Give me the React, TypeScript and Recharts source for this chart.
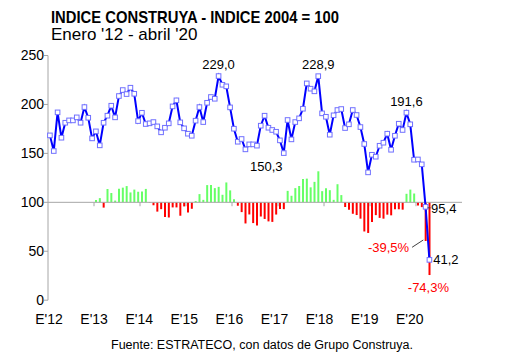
import React from 'react';
import { ComposedChart, Bar, Line, XAxis, YAxis, ReferenceLine, Cell } from 'recharts';

const FONT = '"Liberation Sans", Arial, Helvetica, sans-serif';

// Índice Construya, mensual, enero 2012 - abril 2020
const indexValues = [
  168.4, 152.4, 191.9, 166.0, 181.3, 183.7, 183.7, 186.8, 181.3, 197.3, 186.4, 165.3,
  172.5, 158.2, 181.3, 188.5, 198.7, 186.8, 208.6, 214.7, 210.6, 217.1, 210.9, 183.0,
  191.5, 180.0, 180.7, 182.0, 177.6, 171.5, 176.2, 180.7, 198.0, 204.2, 181.7, 175.6,
  170.1, 168.0, 183.4, 197.3, 182.0, 201.7, 207.6, 205.8, 229.0, 220.1, 218.5, 197.0,
  175.2, 161.9, 164.7, 154.1, 159.2, 159.2, 157.9, 178.3, 188.5, 176.2, 173.9, 172.1,
  163.3, 150.3, 184.1, 164.3, 182.0, 185.8, 195.6, 221.5, 216.1, 213.4, 228.9, 190.9,
  187.4, 169.1, 188.9, 194.3, 195.3, 175.9, 179.7, 194.3, 189.2, 176.9, 159.6, 130.6,
  148.6, 146.6, 157.8, 160.9, 170.1, 153.7, 168.0, 180.3, 173.9, 191.6, 179.7, 143.5,
  143.8, 138.8, 95.4, 41.2,
];

// Variación interanual (%), desde enero 2013
const yoyStart = 12;
const yoyValues = [
  2.4, 4.3, -5.4, 13.6, 9.5, 1.8, 13.8, 15.0, 16.6, 10.1, 13.0, 10.8,
  11.1, 13.7, -0.3, -3.0, -9.5, -7.0, -15.0, -15.5, -5.2, -5.2, -13.7, -4.2,
  -10.5, -6.6, 1.3, 8.4, 2.5, 17.6, 17.8, 14.5, 15.8, 7.7, 20.3, 12.2,
  3.2, -3.5, -10.0, -21.6, -12.4, -21.2, -23.8, -14.5, -17.0, -19.5, -20.0, -12.5,
  -6.7, -7.0, 11.7, 6.7, 14.5, 16.7, 23.8, 24.2, 15.3, 20.9, 31.7, 11.4,
  14.5, 12.4, 2.5, 18.5, 7.4, -4.8, -7.6, -11.7, -13.0, -16.7, -29.8, -31.3,
  -20.2, -13.1, -15.9, -16.7, -12.6, -13.3, -7.2, -7.1, -7.5, 8.7, 13.0, 9.0,
  -3.3, -4.9, -39.5, -74.3,
];

const yearLabels = ["E'12", "E'13", "E'14", "E'15", "E'16", "E'17", "E'18", "E'19", "E'20"];
const januaryTicks = [0, 12, 24, 36, 48, 60, 72, 84, 96];
const yearBoundaries = [11.5, 23.5, 35.5, 47.5, 59.5, 71.5, 83.5, 95.5];
const yTicks = [0, 50, 100, 150, 200, 250];

const lineLabels: Record<number, string> = {
  44: '229,0', 61: '150,3', 70: '228,9', 93: '191,6', 98: '95,4', 99: '41,2',
};
const barLabels: Record<number, string> = { 98: '-39,5%', 99: '-74,3%' };

const data = indexValues.map((v, i) => {
  const pct = i >= yoyStart ? yoyValues[i - yoyStart] : null;
  return {
    i,
    idx: v,
    yoy: pct,
    barEnd: pct == null ? null : 100 + pct,
    range: pct == null ? null : pct >= 0 ? [100, 100 + pct] : [100 + pct, 100],
  };
});

const GREEN = '#66ff66';
const RED = '#ff0000';
const GRAY = '#a6a6a6';

const renderDot = (props: any) => {
  const { cx, cy, index } = props;
  if (cx == null || cy == null) return <g key={`d${index}`} />;
  return (
    <rect key={`d${index}`} x={cx - 2.3} y={cy - 2.3} width={4.6} height={4.6}
      fill="#ffffff" stroke="#7070ff" strokeWidth={1} />
  );
};

const renderLineLabel = (props: any) => {
  const { x, y, index } = props;
  const t = lineLabels[index];
  if (!t || x == null || y == null) return null;
  const common = { fontFamily: FONT, fontSize: 13, fill: '#000' };
  if (index === 61) {
    return <text x={x - 17.5} y={y + 13} dy="0.35em" textAnchor="middle" {...common}>{t}</text>;
  }
  if (index === 98) {
    return (
      <g>
        <line x1={x + 2} y1={y + 1} x2={x + 5} y2={y + 1} stroke="#404040" strokeWidth={1} />
        <text x={x + 5.5} y={y + 1.5} dy="0.35em" textAnchor="start" {...common}>{t}</text>
      </g>
    );
  }
  if (index === 99) {
    return <text x={x + 3.8} y={y} dy="0.35em" textAnchor="start" {...common}>{t}</text>;
  }
  return <text x={x} y={y - 11.5} dy="0.35em" textAnchor="middle" {...common}>{t}</text>;
};

// label anchored at the end of each variation bar
const renderBarLabel = (props: any) => {
  const { x, y, index } = props;
  const t = barLabels[index];
  if (!t || x == null || y == null) return null;
  const common = { fontFamily: FONT, fontSize: 13, fill: RED };
  if (index === 98) {
    return (
      <g>
        <line x1={x - 13.5} y1={y + 6.3} x2={x - 2.3} y2={y - 1} stroke="#404040" strokeWidth={1} />
        <text x={x - 16.5} y={y + 6} dy="0.35em" textAnchor="end" {...common}>{t}</text>
      </g>
    );
  }
  return <text x={x - 1} y={y + 12} dy="0.35em" textAnchor="middle" {...common}>{t}</text>;
};

export default function App() {
  return (
    <div style={{ position: 'absolute', left: 0, top: 0, width: 530, height: 354, background: '#fff' }}>
      <svg width={530} height={354} style={{ position: 'absolute', left: 0, top: 0 }}>
        <text x={51} y={23} fontFamily={FONT} fontSize={17} fontWeight="bold" fill="#000"
          textLength={288} lengthAdjust="spacingAndGlyphs">
          INDICE CONSTRUYA - INDICE 2004 = 100
        </text>
        <text x={51} y={39.5} fontFamily={FONT} fontSize={17} fill="#000">
          Enero '12 - abril '20
        </text>
        <text x={262} y={349} fontFamily={FONT} fontSize={12.5} fill="#000" textAnchor="middle">
          Fuente: ESTRATECO, con datos de Grupo Construya.
        </text>
      </svg>
      <div style={{ position: 'absolute', left: 0, top: 0 }}>
        <ComposedChart width={530} height={354} data={data}
          margin={{ top: 55.5, right: 64, bottom: 23.8, left: 8 }}>
          <XAxis xAxisId="d" type="number" dataKey="i" domain={[-0.5, 107.5]} hide height={0} />
          <XAxis xAxisId="y" type="number" dataKey="i" domain={[-0.266, 109.9]}
            ticks={januaryTicks} allowDataOverflow interval={0}
            tickFormatter={(v: number) => yearLabels[januaryTicks.indexOf(v)] ?? ''}
            axisLine={false} tickLine={false} tickSize={0} tickMargin={14} height={30}
            tick={{ fontFamily: FONT, fontSize: 14, fill: '#000' }} />
          <YAxis yAxisId="l" domain={[0, 250]} ticks={yTicks} width={40}
            axisLine={{ stroke: GRAY }} tickLine={{ stroke: GRAY }} tickSize={4} tickMargin={0}
            tick={{ fontFamily: FONT, fontSize: 14, fill: '#000' }} />
          <YAxis yAxisId="r" orientation="right" domain={[0, 250]} ticks={yTicks} width={4}
            axisLine={false} tickLine={{ stroke: '#c8c8c8' }} tickSize={2}
            tickFormatter={() => ''} />
          <ReferenceLine xAxisId="d" yAxisId="l" y={100} stroke={GRAY} strokeWidth={1} />
          {yearBoundaries.map((b) => (
            <ReferenceLine key={b} xAxisId="d" yAxisId="l"
              segment={[{ x: b, y: 100 }, { x: b, y: 96 }]} stroke={GRAY} strokeWidth={1} />
          ))}
          <Bar xAxisId="d" yAxisId="l" dataKey="range" barSize={2} isAnimationActive={false}>
            {data.map((d) => (
              <Cell key={d.i} fill={d.yoy != null && d.yoy >= 0 ? GREEN : RED} />
            ))}
          </Bar>
          <Line xAxisId="d" yAxisId="l" dataKey="barEnd" stroke="none" dot={false}
            activeDot={false} isAnimationActive={false} label={renderBarLabel} />
          <Line xAxisId="d" yAxisId="l" dataKey="idx" stroke="#0000ff" strokeWidth={2}
            dot={renderDot} activeDot={false} isAnimationActive={false}
            label={renderLineLabel} />
        </ComposedChart>
      </div>
    </div>
  );
}
